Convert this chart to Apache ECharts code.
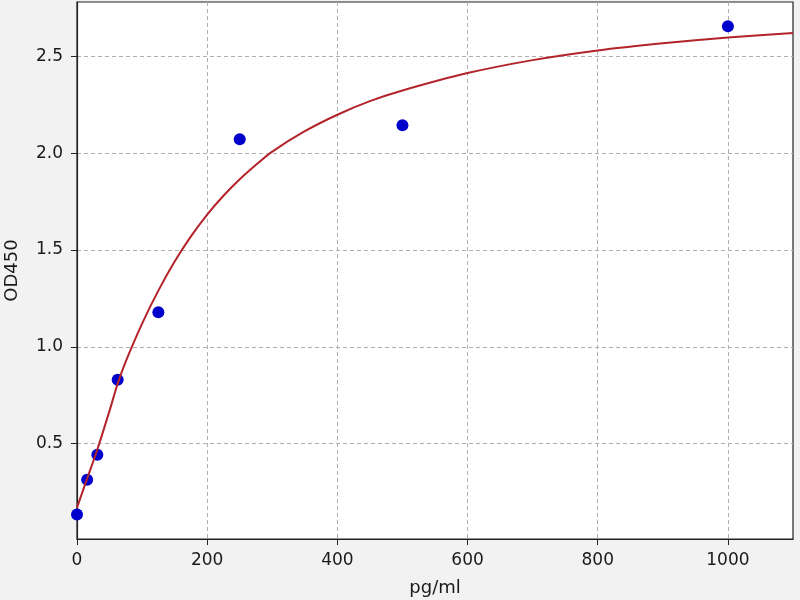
<!DOCTYPE html>
<html>
<head>
<meta charset="utf-8">
<script src="https://cdn.jsdelivr.net/npm/echarts@6/dist/echarts.min.js"></script>
<style>
  html, body { margin: 0; padding: 0; background: #f2f2f2; }
  #chart { width: 800px; height: 600px; }
</style>
</head>
<body>
<div id="chart"></div>
<script>
// standard points
const stdConc = [0, 15.6, 31.25, 62.5, 125, 250, 500, 1000];
const stdOD = [0.134, 0.314, 0.443, 0.83, 1.179, 2.072, 2.144, 2.655];

// fitted curve
const fitConc = [0, 15.6, 31.25, 50, 62.5, 75, 100, 125, 150, 175, 200, 225, 250, 275, 300, 350, 400, 450, 500, 600, 700, 800, 900, 1000, 1100];
const fitOD = [0.17, 0.32, 0.47, 0.67, 0.81, 0.925, 1.12, 1.29, 1.44, 1.57, 1.683, 1.78, 1.865, 1.94, 2.008, 2.113, 2.198, 2.268, 2.323, 2.413, 2.48, 2.53, 2.567, 2.597, 2.62];

const xTicks = [0, 200, 400, 600, 800, 1000];
const yTicks = [0.5, 1.0, 1.5, 2.0, 2.5];

function pairs(xs, ys) {
    return xs.map((x, i) => [x, ys[i]]);
}

const font = 'DejaVu Sans';
const ink = '#1a1a1a';

function getOption() {
    const option = {
        backgroundColor: '#f2f2f2',
        animation: false,
        grid: {
            left: 77,
            right: 7,
            top: 2,
            bottom: 61,
            outerBoundsMode: 'none',
            show: true,
            backgroundColor: '#ffffff',
            borderColor: '#222',
            borderWidth: 1.2,
        },
        xAxis: {
            type: 'value',
            min: 0,
            max: 1100,
            name: 'pg/ml',
            nameLocation: 'middle',
            nameGap: 40,
            nameTextStyle: {fontFamily: font, fontSize: 18, color: ink},
            axisLine: {show: true, onZero: false, lineStyle: {color: '#222', width: 1.2}},
            axisTick: {show: true, length: 6, lineStyle: {color: '#222'}, customValues: xTicks},
            axisLabel: {
                fontFamily: font, fontSize: 17, color: ink, margin: 13,
                customValues: xTicks,
                formatter: v => String(v),
            },
            splitLine: {show: true, lineStyle: {color: '#b0b0b0', type: [4, 3], width: 1}},
        },
        yAxis: {
            type: 'value',
            min: 0.008,
            max: 2.78,
            name: 'OD450',
            nameLocation: 'middle',
            nameGap: 56,
            nameTextStyle: {fontFamily: font, fontSize: 18, color: ink},
            axisLine: {show: true, lineStyle: {color: '#222', width: 1.2}},
            axisTick: {show: true, length: 6, lineStyle: {color: '#222'}, customValues: yTicks},
            axisLabel: {
                fontFamily: font, fontSize: 17, color: ink, margin: 14,
                customValues: yTicks,
                formatter: v => v.toFixed(1),
            },
            splitLine: {show: true, lineStyle: {color: '#b0b0b0', type: [4, 3], width: 1}},
        },
        series: [
            {
                type: 'scatter',
                data: pairs(stdConc, stdOD),
                symbolSize: 12,
                itemStyle: {color: '#0000cc', opacity: 1},
                z: 2,
            },
            {
                type: 'line',
                data: pairs(fitConc, fitOD),
                smooth: 0.3,
                showSymbol: false,
                lineStyle: {color: '#b3242a', width: 2},
                z: 3,
            },
        ],
    };
    return option;
}

const chart = echarts.init(document.getElementById('chart'));
chart.setOption(getOption());
</script>
</body>
</html>
